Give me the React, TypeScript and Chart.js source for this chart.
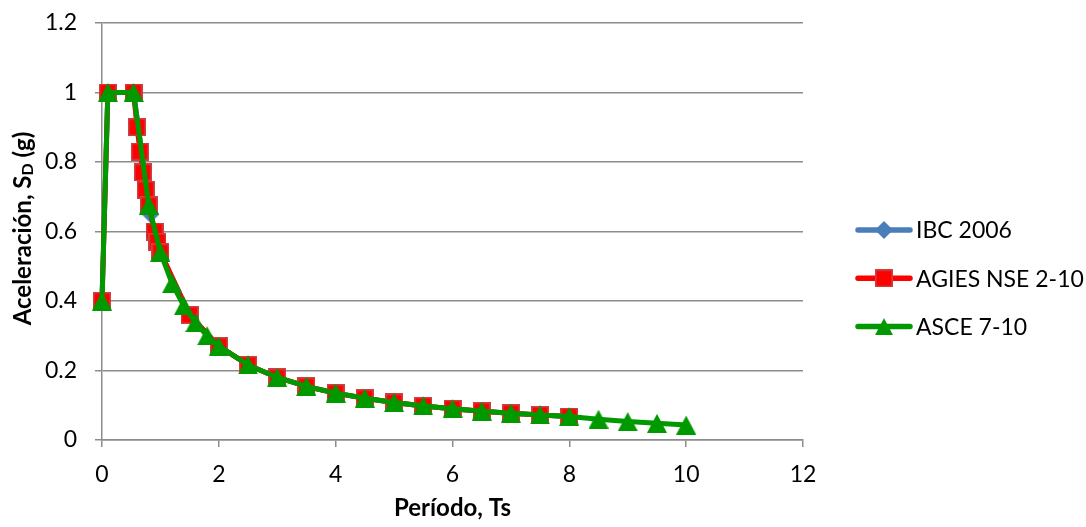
import { useEffect, useRef } from 'react';
import { Chart, registerables } from 'chart.js';

Chart.register(...registerables);

// ---- data ----
const seriesNames = ['IBC 2006', 'AGIES NSE 2-10', 'ASCE 7-10'];

const ibcT = [0, 0.1, 0.54, 0.83, 1.0, 1.5, 2.0, 2.5, 3.0, 3.5, 4.0, 4.5, 5.0, 5.5, 6.0, 6.5, 7.0, 7.5, 8.0];
const ibcSd = [0.4, 1.0, 1.0, 0.65, 0.54, 0.36, 0.27, 0.216, 0.18, 0.154, 0.135, 0.12, 0.108, 0.098, 0.09, 0.083, 0.077, 0.072, 0.0675];

const agiesT = [0, 0.1, 0.54, 0.6, 0.65, 0.7, 0.75, 0.8, 0.9, 0.95, 1.0, 1.5, 2.0, 2.5, 3.0, 3.5, 4.0, 4.5, 5.0, 5.5, 6.0, 6.5, 7.0, 7.5, 8.0];
const agiesSd = [0.4, 1.0, 1.0, 0.9, 0.83, 0.77, 0.72, 0.675, 0.6, 0.57, 0.54, 0.36, 0.27, 0.216, 0.18, 0.154, 0.135, 0.12, 0.108, 0.098, 0.09, 0.083, 0.077, 0.072, 0.0675];

const asceT = [0, 0.1, 0.54, 0.8, 1.0, 1.2, 1.4, 1.6, 1.8, 2.0, 2.5, 3.0, 3.5, 4.0, 4.5, 5.0, 5.5, 6.0, 6.5, 7.0, 7.5, 8.0, 8.5, 9.0, 9.5, 10.0];
const asceSd = [0.4, 1.0, 1.0, 0.675, 0.54, 0.45, 0.386, 0.338, 0.3, 0.27, 0.216, 0.18, 0.154, 0.135, 0.12, 0.108, 0.098, 0.09, 0.083, 0.077, 0.072, 0.0675, 0.06, 0.053, 0.048, 0.043];

const xMin = 0, xMax = 12, xStep = 2;
const yMin = 0, yMax = 1.2, yStep = 0.2;

const xTitle = 'Período, Ts';
const yTitleMain = 'Aceleración, S';
const yTitleSub = 'D';
const yTitleEnd = ' (g)';

const colors = ['#4A7EBB', '#FF0000', '#009900'];
const FONT = 'Lato, "Liberation Sans", sans-serif';

function makeCanvas(w: number, h: number) {
  const c = document.createElement('canvas');
  c.width = w;
  c.height = h;
  return c;
}

function diamondImg(color: string) {
  const c = makeCanvas(18, 18);
  const g = c.getContext('2d')!;
  g.fillStyle = color;
  g.beginPath();
  g.moveTo(9, 0);
  g.lineTo(18, 9);
  g.lineTo(9, 18);
  g.lineTo(0, 9);
  g.closePath();
  g.fill();
  return c;
}

function squareImg(color: string, border: string) {
  const c = makeCanvas(18, 18);
  const g = c.getContext('2d')!;
  g.fillStyle = color;
  g.fillRect(0, 0, 18, 18);
  g.strokeStyle = border;
  g.lineWidth = 1.6;
  g.strokeRect(0.8, 0.8, 16.4, 16.4);
  return c;
}

function triangleImg(color: string, w: number, h: number) {
  const c = makeCanvas(w, h);
  const g = c.getContext('2d')!;
  g.fillStyle = color;
  g.beginPath();
  g.moveTo(w / 2, 0);
  g.lineTo(w, h);
  g.lineTo(0, h);
  g.closePath();
  g.fill();
  return c;
}

function toPoints(xs: number[], ys: number[]) {
  return xs.map((x, i) => ({ x, y: ys[i] }));
}

export default function App() {
  const ref = useRef<HTMLCanvasElement | null>(null);

  useEffect(() => {
    const canvas = ref.current;
    if (!canvas) return;

    const markers = [
      diamondImg(colors[0]),
      squareImg(colors[1], 'rgba(200,70,70,0.95)'),
      triangleImg(colors[2], 20, 19),
    ];
    const legendMarkers = [
      diamondImg(colors[0]),
      squareImg(colors[1], 'rgba(200,70,70,0.95)'),
      triangleImg(colors[2], 18, 17),
    ];

    const overlay = {
      id: 'overlay',
      afterDraw(chart: any) {
        const ctx = chart.ctx as CanvasRenderingContext2D;
        ctx.save();
        // legend
        seriesNames.forEach((name, i) => {
          const y = 230 + i * 48.3;
          ctx.strokeStyle = colors[i];
          ctx.lineWidth = 5.5;
          ctx.lineCap = 'round';
          ctx.beginPath();
          ctx.moveTo(858, y);
          ctx.lineTo(910, y);
          ctx.stroke();
          const m = legendMarkers[i];
          ctx.drawImage(m, 884 - m.width / 2, y - m.height / 2);
          ctx.fillStyle = '#000';
          ctx.font = `23px ${FONT}`;
          ctx.textBaseline = 'middle';
          ctx.textAlign = 'left';
          ctx.fillText(name, 916, y + 1);
        });
        // y-axis title with subscript
        const big = `bold 24px ${FONT}`;
        const small = `bold 16px ${FONT}`;
        ctx.font = big;
        const w1 = ctx.measureText(yTitleMain).width;
        const w3 = ctx.measureText(yTitleEnd).width;
        ctx.font = small;
        const w2 = ctx.measureText(yTitleSub).width;
        const total = w1 + w2 + w3;
        const cy = (chart.chartArea.top + chart.chartArea.bottom) / 2 - 3;
        ctx.translate(23, cy);
        ctx.rotate(-Math.PI / 2);
        ctx.fillStyle = '#000';
        ctx.textBaseline = 'middle';
        ctx.textAlign = 'left';
        let x = -total / 2;
        ctx.font = big;
        ctx.fillText(yTitleMain, x, 0);
        x += w1;
        ctx.font = small;
        ctx.fillText(yTitleSub, x, 5);
        x += w2;
        ctx.font = big;
        ctx.fillText(yTitleEnd, x, 0);
        ctx.restore();
      },
    };

    const common = {
      showLine: true,
      borderWidth: 5,
      borderCapStyle: 'round' as const,
      borderJoinStyle: 'round' as const,
      pointRadius: 9,
      pointHoverRadius: 9,
      clip: false as any,
      tension: 0,
    };

    const chart = new Chart(canvas, {
      type: 'scatter',
      data: {
        datasets: [
          {
            ...common,
            label: seriesNames[0],
            data: toPoints(ibcT, ibcSd),
            borderColor: colors[0],
            backgroundColor: colors[0],
            pointStyle: markers[0] as any,
            order: 3,
          },
          {
            ...common,
            label: seriesNames[1],
            data: toPoints(agiesT, agiesSd),
            borderColor: colors[1],
            backgroundColor: colors[1],
            pointStyle: markers[1] as any,
            order: 2,
          },
          {
            ...common,
            label: seriesNames[2],
            data: toPoints(asceT, asceSd),
            borderColor: colors[2],
            backgroundColor: colors[2],
            pointStyle: markers[2] as any,
            order: 1,
          },
        ],
      },
      options: {
        responsive: false,
        animation: false,
        layout: { padding: { left: 0, top: 23, right: 283, bottom: 0 } },
        plugins: {
          legend: { display: false },
          tooltip: { enabled: false },
        },
        scales: {
          x: {
            type: 'linear',
            min: xMin,
            max: xMax,
            ticks: {
              stepSize: xStep,
              color: '#000',
              font: { family: FONT, size: 23 },
              padding: 14,
              maxRotation: 0,
            },
            grid: {
              drawOnChartArea: false,
              drawTicks: true,
              tickLength: 7,
              color: '#8c8c8c',
              lineWidth: 1.5,
            },
            border: { display: true, color: '#8c8c8c', width: 1.5 },
            title: {
              display: true,
              text: xTitle,
              color: '#000',
              font: { family: FONT, size: 24, weight: 'bold' },
              padding: { top: 0, bottom: 4 },
            },
            afterFit: (s: any) => {
              s.height = 87;
              s.paddingLeft = 0;
              s.paddingRight = 0;
            },
          },
          y: {
            type: 'linear',
            min: yMin,
            max: yMax,
            ticks: {
              stepSize: yStep,
              color: '#000',
              font: { family: FONT, size: 23 },
              padding: 18,
              callback: (v: any) => String(Math.round(Number(v) * 10) / 10),
            },
            grid: {
              drawOnChartArea: true,
              drawTicks: true,
              tickLength: 7,
              color: '#8c8c8c',
              lineWidth: 1.5,
            },
            border: { display: true, color: '#8c8c8c', width: 1.5 },
            afterFit: (s: any) => {
              s.width = 102;
              s.paddingTop = 0;
              s.paddingBottom = 0;
            },
          },
        },
      },
      plugins: [overlay],
    });

    return () => chart.destroy();
  }, []);

  return (
    <div style={{ position: 'absolute', left: 0, top: 0, width: 1086, height: 527, background: '#fff' }}>
      <canvas ref={ref} width={1086} height={527} style={{ display: 'block' }} />
    </div>
  );
}
